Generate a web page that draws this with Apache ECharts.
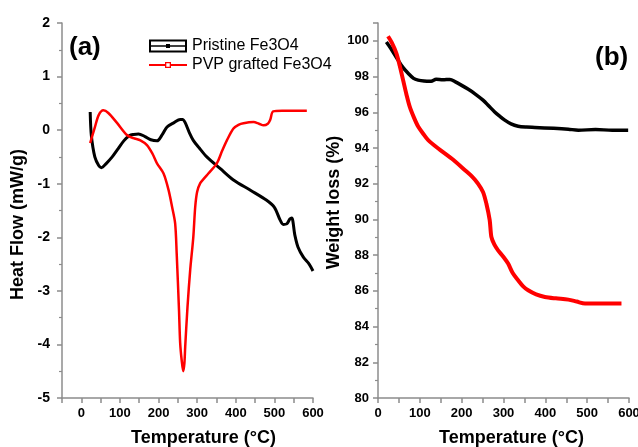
<!DOCTYPE html>
<html><head><meta charset="utf-8">
<script src="https://cdn.jsdelivr.net/npm/echarts@6/dist/echarts.min.js"></script>
<style>html,body{margin:0;padding:0;background:#fff}#c{width:638px;height:447px}</style>
</head><body><div id="c"></div>
<script>
// Panel (a): DSC heat flow
const dscPristine = [[23,0.34],[26,-0.1],[35,-0.5],[45,-0.66],[52,-0.7],[65,-0.62],[80,-0.5],[93,-0.37],[110,-0.2],[125,-0.1],[135,-0.08],[148,-0.07],[165,-0.12],[180,-0.18],[196,-0.2],[210,-0.08],[222,0.06],[240,0.14],[256,0.2],[262,0.2],[269,0.14],[280,-0.05],[290,-0.19],[305,-0.33],[325,-0.5],[360,-0.72],[394,-0.93],[440,-1.13],[480,-1.31],[500,-1.44],[515,-1.68],[523,-1.76],[532,-1.75],[540,-1.66],[545,-1.64],[553,-1.96],[561,-2.18],[575,-2.37],[590,-2.5],[600,-2.63]];
const dscPVP = [[23,-0.24],[35,0.05],[45,0.28],[57,0.37],[70,0.32],[93,0.13],[118,-0.09],[135,-0.15],[153,-0.19],[170,-0.28],[185,-0.45],[196,-0.62],[213,-0.81],[226,-1.12],[235,-1.43],[243,-1.74],[247,-2.3],[253,-3.36],[256,-3.97],[260,-4.3],[264,-4.5],[267,-4.35],[269,-4.05],[275,-3.3],[282,-2.61],[290,-2.0],[295,-1.43],[300,-1.15],[308,-0.99],[318,-0.9],[329,-0.81],[351,-0.62],[365,-0.38],[377,-0.19],[394,0.03],[407,0.1],[420,0.13],[446,0.15],[460,0.12],[472,0.09],[483,0.12],[489,0.19],[497,0.35],[520,0.36],[550,0.36],[584,0.36]];
// Panel (b): TGA weight loss
const tgaPristine = [[20,99.94],[30,99.6],[48,98.92],[60,98.5],[72,98.19],[85,97.9],[96,97.8],[110,97.75],[127,97.74],[139,97.85],[155,97.82],[172,97.84],[185,97.7],[199,97.52],[215,97.3],[231,97.05],[251,96.68],[265,96.35],[279,96.02],[290,95.8],[303,95.56],[318,95.35],[335,95.22],[355,95.17],[375,95.15],[420,95.1],[455,95.05],[479,95.0],[520,95.03],[560,95.0],[598,95.0]];
const tgaPVP = [[24,100.26],[33,99.9],[44,99.3],[52,98.6],[60,97.8],[68,97.0],[76,96.3],[86,95.7],[96,95.2],[108,94.8],[120,94.44],[144,93.97],[176,93.41],[208,92.76],[225,92.4],[239,92.01],[251,91.54],[259,90.89],[267,89.96],[271,89.02],[278,88.6],[287,88.27],[300,87.9],[311,87.53],[322,87.0],[335,86.59],[347,86.25],[359,86.03],[378,85.8],[399,85.66],[425,85.58],[455,85.51],[475,85.4],[495,85.29],[540,85.29],[582,85.29]];
const seriesNames = ['Pristine Fe3O4','PVP grafted Fe3O4'];

const FF = 'Liberation Sans, Arial';
const lbl = {color:'#000',fontFamily:FF,fontWeight:'bold',fontSize:13};
const axLine = {show:true,onZero:false,lineStyle:{color:'#8c8c8c',width:1.5}};
const tick = {show:true,length:5,lineStyle:{color:'#8c8c8c',width:1.5}};
const minor = {show:true,splitNumber:2,length:3,lineStyle:{color:'#8c8c8c',width:1.2}};
const nameStyle = (pad) => ({color:'#000',fontFamily:FF,fontWeight:'bold',fontSize:18,padding:pad});

const iconBlack = 'path://M0,0H38V13H0Z M2,2V11H36V2Z M2,5.8H36V7.2H2Z M17,4.5H21V8.5H17Z';
const iconRed = 'path://M0,2.6H16V4.4H0Z M22,2.6H38V4.4H22Z M16,0.5H22V6.5H16Z M17.3,1.8V5.2H20.7V1.8Z';
const legendText = {fontSize:16,color:'#000',fontFamily:FF};

const chart = echarts.init(document.getElementById('c'));
chart.setOption({
  animation:false,
  backgroundColor:'#fff',
  title:[
    {text:'(a)',left:69,top:35,padding:0,textStyle:{fontSize:26,fontWeight:'bold',color:'#000',fontFamily:FF}},
    {text:'(b)',left:595,top:45,padding:0,textStyle:{fontSize:26,fontWeight:'bold',color:'#000',fontFamily:FF}}
  ],
  legend:[
    {data:[{name:seriesNames[0],icon:iconBlack}], left:149, top:38, padding:0, itemWidth:38, itemHeight:13, textStyle:legendText},
    {data:[{name:seriesNames[1],icon:iconRed}], left:149, top:57, padding:0, itemWidth:38, itemHeight:7, textStyle:legendText}
  ],
  grid:[
    {left:62,top:23,width:251,height:375,containLabel:false,outerBoundsMode:'none'},
    {left:378,top:23,width:251,height:375,containLabel:false,outerBoundsMode:'none'}
  ],
  xAxis:[
    {gridIndex:0,type:'value',min:-50,max:600,interval:50,
     axisLine:axLine,axisTick:tick,minorTick:{show:false},splitLine:{show:false},
     axisLabel:Object.assign({},lbl,{margin:9,formatter:v=>(v>=0&&v%100===0)?String(v):''}),
     name:'Temperature (°C)',nameLocation:'middle',nameGap:31,nameTextStyle:nameStyle([0,0,0,32])},
    {gridIndex:1,type:'value',min:0,max:600,interval:50,
     axisLine:axLine,axisTick:tick,splitLine:{show:false},
     axisLabel:Object.assign({},lbl,{margin:9,formatter:v=>(v%100===0)?String(v):''}),
     name:'Temperature (°C)',nameLocation:'middle',nameGap:31,nameTextStyle:nameStyle([0,0,0,16])}
  ],
  yAxis:[
    {gridIndex:0,type:'value',min:-5,max:2,interval:1,
     axisLine:axLine,axisTick:tick,minorTick:minor,splitLine:{show:false},
     axisLabel:Object.assign({},lbl,{fontSize:14,margin:12}),
     name:'Heat Flow (mW/g)',nameLocation:'middle',nameGap:35,nameTextStyle:nameStyle([0,28,0,0])},
    {gridIndex:1,type:'value',min:80,max:101,interval:2,
     axisLine:axLine,axisTick:tick,minorTick:minor,splitLine:{show:false},
     axisLabel:Object.assign({},lbl,{margin:9,formatter:v=>(v%2===0)?String(v):''}),
     name:'Weight loss (%)',nameLocation:'middle',nameGap:35,nameTextStyle:nameStyle([0,0,0,16])}
  ],
  series:[
    {name:seriesNames[0],type:'line',xAxisIndex:0,yAxisIndex:0,data:dscPristine,smooth:0.3,
     showSymbol:false,lineStyle:{color:'#000',width:3},itemStyle:{color:'#000'}},
    {name:seriesNames[1],type:'line',xAxisIndex:0,yAxisIndex:0,data:dscPVP,smooth:0.3,
     showSymbol:false,lineStyle:{color:'#f00',width:2.5},itemStyle:{color:'#f00'}},
    {name:seriesNames[0],type:'line',xAxisIndex:1,yAxisIndex:1,data:tgaPristine,smooth:0.3,
     showSymbol:false,lineStyle:{color:'#000',width:3.5},itemStyle:{color:'#000'}},
    {name:seriesNames[1],type:'line',xAxisIndex:1,yAxisIndex:1,data:tgaPVP,smooth:0.3,
     showSymbol:false,lineStyle:{color:'#f00',width:4},itemStyle:{color:'#f00'}}
  ]
});
</script></body></html>
